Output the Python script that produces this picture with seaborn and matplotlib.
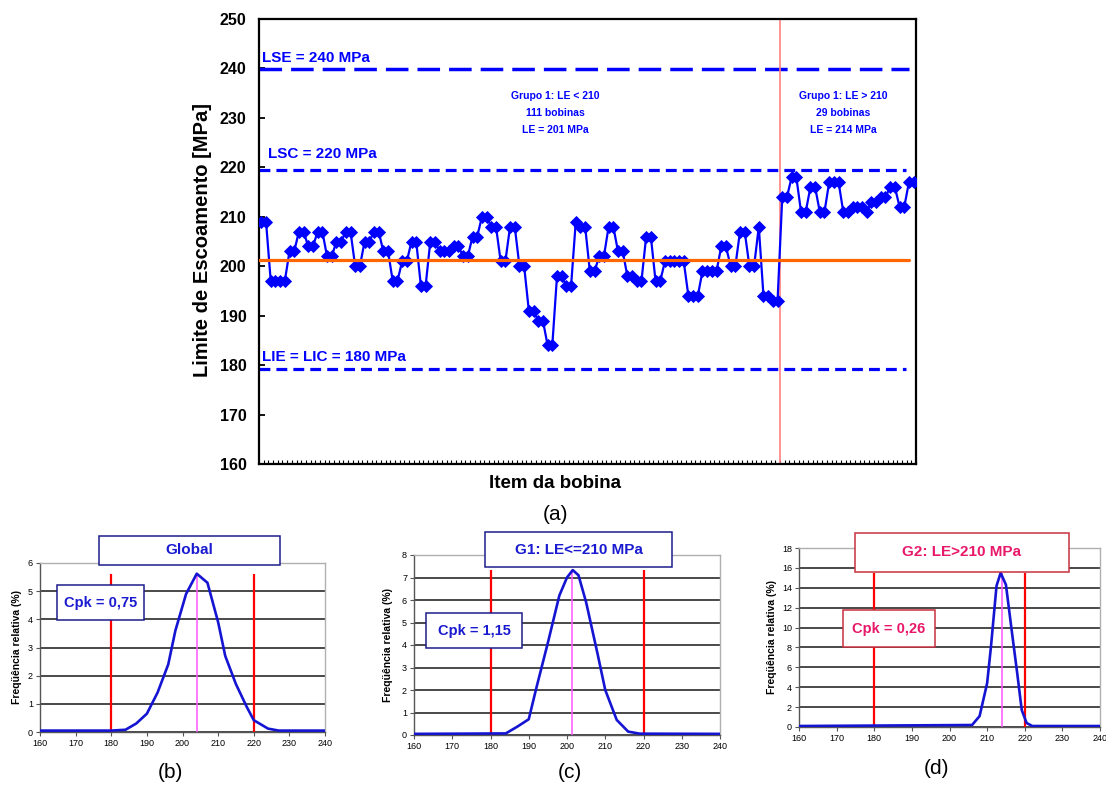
import matplotlib
matplotlib.use("Agg")
import matplotlib.pyplot as plt
from matplotlib.patches import Rectangle
import numpy as np
import seaborn as sns

# ---------------- data ----------------
le_group1 = [209, 209, 197, 197, 197, 197, 203, 203, 207, 207, 204, 204, 207, 207,
             202, 202, 205, 205, 207, 207, 200, 200, 205, 205, 207, 207, 203, 203,
             197, 197, 201, 201, 205, 205, 196, 196, 205, 205, 203, 203, 203, 204,
             204, 202, 202, 206, 206, 210, 210, 208, 208, 201, 201, 208, 208, 200, 200,
             191, 191, 189, 189, 184, 184, 198, 198, 196, 196, 209, 208, 208, 199, 199,
             202, 202, 208, 208, 203, 203, 198, 198, 197, 197, 206, 206, 197, 197, 201,
             201, 201, 201, 201, 194, 194, 194, 199, 199, 199, 199, 204, 204, 200, 200,
             207, 207, 200, 200, 208, 194, 194, 193, 193]
le_group2 = [214, 214, 218, 218, 211, 211, 216, 216, 211, 211, 217, 217, 217, 211, 211,
             212, 212, 212, 211, 213, 213, 214, 214, 216, 216, 212, 212, 217, 217]

lse_level = 239.8   # LSE = 240 MPa (as drawn)
lsc_level = 219.5   # LSC = 220 MPa (as drawn)
lie_level = 179.3   # LIE = LIC = 180 MPa (as drawn)

y_ticks_main = [160, 170, 180, 190, 200, 210, 220, 230, 240, 250]

# distributions (b) Global, (c) G1, (d) G2
b_x = [160, 180, 184, 187, 190, 193, 196, 198, 201, 204, 207, 210, 212, 215, 218, 220, 224, 227, 240]
b_y = [0.05, 0.05, 0.08, 0.3, 0.65, 1.4, 2.4, 3.6, 4.9, 5.62, 5.3, 3.9, 2.7, 1.7, 0.9, 0.42, 0.12, 0.05, 0.05]
c_x = [160, 184, 187, 190, 192, 195, 198, 200, 201.5, 203, 205, 208, 210, 213, 216, 219, 240]
c_y = [0.05, 0.07, 0.37, 0.7, 2.1, 4.1, 6.2, 7.0, 7.33, 7.1, 5.9, 3.6, 2.0, 0.67, 0.15, 0.06, 0.05]
d_x = [160, 206, 208, 210, 211, 212.5, 213.6, 215, 216.5, 218, 219.2, 220.5, 222, 240]
d_y = [0.1, 0.2, 1.1, 4.4, 8.0, 14.2, 15.5, 14.3, 9.8, 5.4, 1.7, 0.4, 0.1, 0.1]
b_mean, c_mean, d_mean = 204, 201.3, 214

# ---------------- style ----------------
sns.set_theme(style="white")
plt.rcParams["font.family"] = ["Liberation Sans", "DejaVu Sans"]

W, H = 1106, 791
fig = plt.figure(figsize=(W / 100, H / 100), dpi=100)
fig.patch.set_facecolor("white")


def fx(px):
    return px / W


def fy(py):
    return 1 - py / H


def rect_axes(x0, y0, x1, y1):
    return fig.add_axes([fx(x0), fy(y1), (x1 - x0) / W, (y1 - y0) / H])


BLUE = "#0000ff"

# ---------------- main chart ----------------
le = np.array(le_group1 + le_group2)
idx = np.arange(len(le))
n1 = len(le_group1)
mean1 = float(np.mean(le_group1))

ax = rect_axes(259, 19, 916, 464)
ax.set_facecolor("white")
sns.lineplot(x=idx, y=le, ax=ax, color=BLUE, lw=1.6, marker="D", markersize=6.5,
             markeredgecolor=BLUE, markeredgewidth=0.6, zorder=3)
ax.axhline(lse_level, xmax=0.99, color=BLUE, lw=2.5, dashes=(6.5, 2.6), zorder=2)
ax.axhline(lsc_level, xmax=0.985, color=BLUE, lw=2.3, dashes=(3.4, 1.9), zorder=2)
ax.axhline(lie_level, xmax=0.985, color=BLUE, lw=2.3, dashes=(3.4, 1.9), zorder=2)
ax.axvline(n1 - 0.5, color="#ff8080", lw=1.2, zorder=2)
ax.axhline(mean1, xmax=0.99, color="#ff6600", lw=2.3, zorder=4)

ax.set_xlim(-0.5, len(le) - 0.5)
ax.set_ylim(160, 250)
ax.set_yticks(y_ticks_main)
ax.set_yticklabels([str(v) for v in y_ticks_main], fontweight="bold", fontsize=11.5, color="black")
ax.set_xticks(np.arange(-0.5, len(le), 1))
ax.set_xticklabels([])
ax.tick_params(axis="y", direction="in", length=4, width=1.3, color="black", pad=9, left=True,
               labelcolor="black")
ax.tick_params(axis="x", direction="in", length=3, width=0.8, color="black", bottom=True)
for s in ax.spines.values():
    s.set_color("black")
    s.set_linewidth(1.6)
ax.set_xlabel("")
ax.set_ylabel("")

fig.text(fx(203), fy(240), "Limite de Escoamento [MPa]", rotation=90, ha="center", va="center",
         fontsize=14.5, fontweight="bold", color="black")
fig.text(fx(555), fy(484), "Item da bobina", ha="center", va="center",
         fontsize=13.5, fontweight="bold", color="black")
fig.text(fx(555), fy(515), "(a)", ha="center", va="center", fontsize=15, color="black")

fig.text(fx(262), fy(62), "LSE = 240 MPa", ha="left", va="baseline",
         fontsize=11, fontweight="bold", color=BLUE)
fig.text(fx(268), fy(158), "LSC = 220 MPa", ha="left", va="baseline",
         fontsize=11, fontweight="bold", color=BLUE)
fig.text(fx(262), fy(361), "LIE = LIC = 180 MPa", ha="left", va="baseline",
         fontsize=11, fontweight="bold", color=BLUE)

for i, t in enumerate(["Grupo 1: LE < 210", "111 bobinas", "LE = 201 MPa"]):
    fig.text(fx(555), fy(96 + 17 * i), t, ha="center", va="center",
             fontsize=7.5, fontweight="bold", color=BLUE)
for i, t in enumerate(["Grupo 1: LE > 210", "29 bobinas", "LE = 214 MPa"]):
    fig.text(fx(843), fy(96 + 17 * i), t, ha="center", va="center",
             fontsize=7.5, fontweight="bold", color=BLUE)


# ---------------- small charts ----------------
def small_chart(box, xs, ys, ymax, ystep, mean_x, peak, ylab_x):
    a = rect_axes(*box)
    a.set_facecolor("white")
    sns.lineplot(x=xs, y=ys, ax=a, color="#1414d2", lw=1.9, zorder=4)
    a.vlines([180, 220], 0, peak, color="#ff0000", lw=1.6, zorder=3)
    a.vlines([mean_x], 0, peak, color="#ff55ff", lw=1.1, zorder=3)
    a.set_xlim(160, 240)
    a.set_ylim(0, ymax)
    yt = np.arange(0, ymax + 0.001, ystep)
    a.set_yticks(yt)
    a.set_yticklabels([f"{v:g}" for v in yt], fontsize=6.5, color="black")
    xt = np.arange(160, 241, 10)
    a.set_xticks(xt)
    a.set_xticklabels([str(v) for v in xt], fontsize=6.5, color="black")
    a.yaxis.grid(True, color="#3a3a3a", lw=1.3)
    a.xaxis.grid(False)
    a.set_axisbelow(True)
    a.tick_params(axis="both", direction="out", length=3, width=0.8, color="#555555",
                  pad=2, left=True, bottom=True, labelcolor="black")
    a.spines["left"].set_color("#555555")
    a.spines["bottom"].set_color("#555555")
    a.spines["top"].set_color("#b0b0b0")
    a.spines["right"].set_color("#b0b0b0")
    for s in a.spines.values():
        s.set_linewidth(1.0)
    a.set_xlabel("")
    a.set_ylabel("")
    fig.text(fx(ylab_x), fy((box[1] + box[3]) / 2), "Freqüência relativa (%)", rotation=90,
             ha="center", va="center", fontsize=7.5, fontweight="bold", color="black")
    return a


small_chart((40, 563, 325, 732), b_x, b_y, 6, 1, b_mean, 5.62, 17)
small_chart((414, 555, 720, 735), c_x, c_y, 8, 1, c_mean, 7.33, 388)
small_chart((799, 548, 1100, 727), d_x, d_y, 18, 2, d_mean, 15.5, 772)


def labeled_box(x0, y0, x1, y1, text, tcolor, ecolor, size):
    fig.add_artist(Rectangle((fx(x0), fy(y1)), (x1 - x0) / W, (y1 - y0) / H,
                             transform=fig.transFigure, facecolor="white",
                             edgecolor=ecolor, lw=1.1, zorder=10))
    fig.text(fx((x0 + x1) / 2), fy((y0 + y1) / 2), text, ha="center", va="center",
             fontsize=size, fontweight="bold", color=tcolor, zorder=11)


NAVY = "#1c1c8c"
TBLUE = "#1a1ad0"
CRIM = "#e8186a"
CRIM_E = "#c83040"
labeled_box(99, 536, 280, 565, "Global", TBLUE, NAVY, 11)
labeled_box(57, 585, 144, 620, "Cpk = 0,75", TBLUE, NAVY, 10.5)
labeled_box(485, 532, 672, 567, "G1: LE<=210 MPa", TBLUE, NAVY, 11)
labeled_box(426, 613, 522, 648, "Cpk = 1,15", TBLUE, NAVY, 10.5)
labeled_box(855, 533, 1069, 572, "G2: LE>210 MPa", CRIM, CRIM_E, 11)
labeled_box(843, 610, 935, 647, "Cpk = 0,26", CRIM, CRIM_E, 10.5)

fig.text(fx(170), fy(772), "(b)", ha="center", va="center", fontsize=15, color="black")
fig.text(fx(570), fy(773), "(c)", ha="center", va="center", fontsize=15, color="black")
fig.text(fx(937), fy(768), "(d)", ha="center", va="center", fontsize=15, color="black")

fig.savefig("out.png", dpi=100, facecolor="white")
